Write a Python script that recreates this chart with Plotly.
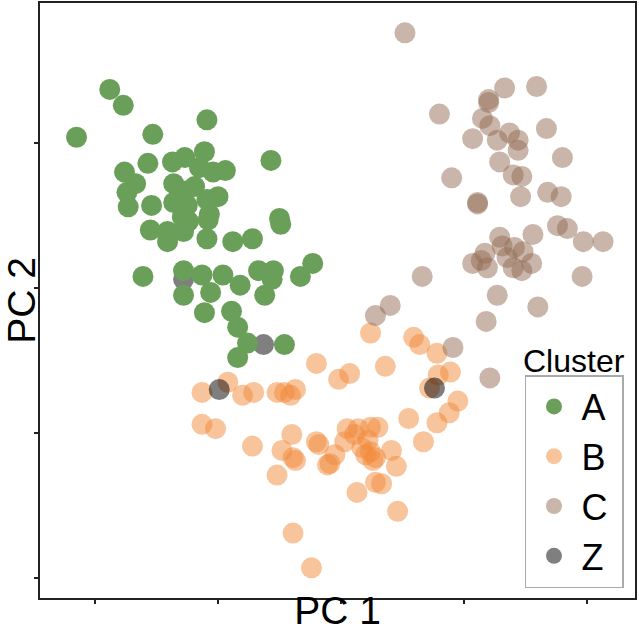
import plotly.graph_objects as go

# Cluster A
A_x = [-1.88, -1.77, -2.15, -1.53, -1.09, -0.57, -1.76, -1.57, -1.67, -1.74, -1.73, -1.54, -1.37, -1.27,
       -1.11, -1.15, -1.04, -0.94, -1.36, -1.26, -1.36, -1.25, -1.09, -1.00, -1.07, -0.50, -0.49, -1.29,
       -1.55, -1.41, -1.41, -1.28, -1.24, -1.09, -0.88, -0.72, -1.61, -1.28, -1.13, -0.96, -0.82, -0.67,
       -0.55, -0.56, -0.62, -0.33, -0.23, -1.28, -1.06, -1.11, -0.89, -0.84, -0.76, -0.84, -0.46, -1.19, -1.08]
A_y = [2.37, 2.26, 2.04, 2.06, 2.16, 1.88, 1.80, 1.86, 1.72, 1.66, 1.56, 1.57, 1.87, 1.90,
       1.94, 1.83, 1.80, 1.81, 1.72, 1.67, 1.59, 1.57, 1.61, 1.63, 1.51, 1.48, 1.44, 1.49,
       1.40, 1.32, 1.39, 1.39, 1.46, 1.34, 1.32, 1.34, 1.08, 1.12, 1.09, 1.09, 1.02, 1.12,
       1.12, 1.06, 0.95, 1.08, 1.17, 0.95, 0.97, 0.83, 0.84, 0.73, 0.62, 0.52, 0.61, 1.70, 1.47]

# Cluster B
B_x = [-1.13, -0.92, -0.80, -0.71, -0.52, -0.46, -0.41, -0.37, -1.13, -1.02, -0.72, -0.40, -0.48, -0.39,
       -0.37, -0.52, -0.20, -0.18, -0.09, -0.39, -0.24, -0.20, -0.02, 0.07, 0.24, 0.59, 0.64, 0.78,
       0.36, 0.79, 0.89, 0.72, 0.95, 0.88, 0.78, 0.55, 0.67, 0.05, 0.14, 0.24, 0.30, 0.03,
       0.17, 0.24, 0.28, 0.26, 0.41, 0.45, -0.05, -0.11, 0.28, 0.33, 0.13, 0.46, 0.11, 0.22, 0.20]
B_y = [0.28, 0.35, 0.26, 0.28, 0.28, 0.28, 0.26, 0.30, 0.06, 0.03, -0.09, -0.01, -0.12, -0.17,
       -0.19, -0.29, -0.06, -0.08, -0.21, -0.69, -0.93, 0.48, 0.37, 0.41, 0.69, 0.66, 0.61, 0.55,
       0.46, 0.40, 0.42, 0.31, 0.22, 0.14, 0.07, 0.10, -0.06, 0.03, 0.03, 0.04, 0.04, -0.06,
       -0.10, -0.13, -0.17, -0.19, -0.12, -0.23, -0.15, -0.22, -0.34, -0.35, -0.41, -0.54, -0.01, -0.05, -0.15]

# Cluster C
C_x = [0.52, 1.33, 1.59, 1.20, 1.20, 0.80, 1.15, 1.21, 1.07, 1.27, 1.37, 1.44, 1.44, 1.67,
       1.29, 1.80, 0.90, 1.40, 1.47, 1.46, 1.68, 1.79, 1.11, 1.11, 1.29, 1.56, 1.76, 1.84,
       1.97, 2.13, 1.07, 1.14, 1.17, 1.31, 1.41, 1.48, 1.19, 1.35, 1.40, 1.47, 1.55, 1.96,
       0.66, 1.27, 1.60, 0.40, 0.28, 1.18, 0.91, 1.21]
C_y = [2.76, 2.38, 2.39, 2.30, 2.28, 2.20, 2.17, 2.12, 2.03, 2.02, 2.07, 2.02, 1.95, 2.10,
       1.87, 1.90, 1.76, 1.78, 1.77, 1.63, 1.66, 1.63, 1.58, 1.59, 1.35, 1.37, 1.43, 1.41,
       1.32, 1.32, 1.17, 1.19, 1.24, 1.29, 1.28, 1.25, 1.14, 1.21, 1.14, 1.12, 1.17, 1.08,
       1.08, 0.95, 0.87, 0.88, 0.81, 0.77, 0.59, 0.38]

# Cluster Z
Z_x = [-1.28, -0.63, -0.99, 0.76]
Z_y = [1.06, 0.61, 0.30, 0.31]

FONT = "Liberation Sans, Arial, sans-serif"
MS = 21
PAD = "\u00a0"

fig = go.Figure()
# draw order: B, Z, A, C ; legend order via legendrank
fig.add_trace(go.Scatter(x=B_x, y=B_y, mode="markers", name="B" + PAD, legendrank=2,
                         marker=dict(size=MS, color="rgba(241,137,57,0.5)", line=dict(width=0))))
fig.add_trace(go.Scatter(x=Z_x, y=Z_y, mode="markers", name="Z" + PAD, legendrank=4,
                         marker=dict(size=MS, color="rgba(0,0,0,0.5)", line=dict(width=0))))
fig.add_trace(go.Scatter(x=A_x, y=A_y, mode="markers", name="A" + PAD, legendrank=1,
                         marker=dict(size=MS, color="rgb(106,159,90)", line=dict(width=0))))
fig.add_trace(go.Scatter(x=C_x, y=C_y, mode="markers", name="C" + PAD, legendrank=3,
                         marker=dict(size=MS, color="rgba(147,107,83,0.5)", line=dict(width=0))))

axis_common = dict(
    dtick=1, tick0=0, showticklabels=False, ticks="outside", ticklen=4, tickwidth=1.5,
    tickcolor="#222", showline=True, mirror=True, linecolor="#222", linewidth=2,
    showgrid=False, zeroline=False,
)
fig.update_xaxes(range=[-2.447, 2.390], title=dict(text="PC 1", font=dict(size=39, color="black"), standoff=0),
                 **axis_common)
fig.update_yaxes(range=[-1.138, 2.966], title=dict(text="PC 2", font=dict(size=39, color="black"), standoff=0),
                 **axis_common)

fig.update_layout(
    width=639, height=632,
    margin=dict(l=40, r=4, t=3, b=34, autoexpand=False),
    plot_bgcolor="white", paper_bgcolor="white",
    font=dict(family=FONT, color="black"),
    legend=dict(x=0.9815, y=0.0168, xanchor="right", yanchor="bottom",
                bordercolor="#aaaaaa", borderwidth=1.5, bgcolor="rgba(255,255,255,0.85)",
                font=dict(size=36, family=FONT), itemwidth=45),
    annotations=[dict(text="Cluster", x=0.897, y=0.398, xref="paper", yref="paper",
                      xanchor="center", yanchor="middle", showarrow=False,
                      font=dict(size=32, family=FONT, color="black"))],
)

fig.write_html("out.html")
